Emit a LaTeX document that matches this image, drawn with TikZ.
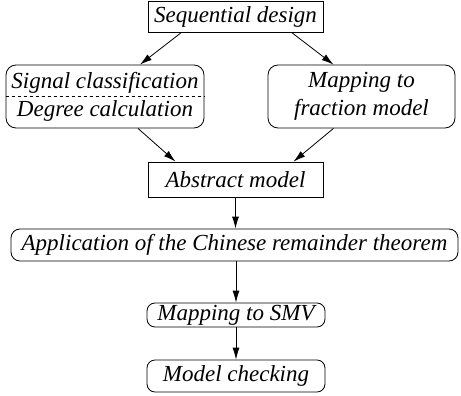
\documentclass[tikz,border=0pt]{standalone}
\usepackage{fontspec}
\setmainfont{Liberation Serif}[ItalicFont={Liberation Serif Italic}]
\usepackage{tikz}
\usetikzlibrary{arrows.meta}

\begin{document}
\begin{tikzpicture}[x=1pt, y=-1pt, line width=0.8pt, >={Latex[length=12pt,width=7pt]},
  font=\fontsize{23}{28}\selectfont\rmfamily\itshape,
  plain/.style={rectangle,draw,inner sep=0pt},
  soft/.style={rectangle,rounded corners=10pt,draw,inner sep=0pt,align=center}]
  \useasboundingbox (0,0) rectangle (461,396);
  \node (seq) at (235.5,16.5) [plain,minimum width=175pt,minimum height=31pt] {Sequential design};
  \node (sigdeg) at (105,96.5) [soft,minimum width=198pt,minimum height=63pt] {Signal classification\\Degree calculation};
  \node (frac) at (361.5,96.5) [soft,minimum width=187pt,minimum height=63pt] {Mapping to\\fraction model};
  \node (abs) at (235.5,179.5) [plain,minimum width=175pt,minimum height=35pt] {Abstract model};
  \node (crt) at (234.5,245) [soft,rounded corners=9pt,minimum width=447pt,minimum height=32pt] {Application of the Chinese remainder theorem};
  \node (smv) at (236,315) [soft,rounded corners=8pt,minimum width=178pt,minimum height=24pt] {Mapping to SMV};
  \node (mc) at (236,376) [soft,rounded corners=8pt,minimum width=178pt,minimum height=32pt] {Model checking};
  \draw[dashed] (sigdeg.west) -- (sigdeg.east);
  \draw[->] ([xshift=-54pt]seq.south) to ([xshift=35pt]sigdeg.north);
  \draw[->] ([xshift=56pt]seq.south) to ([xshift=-28pt]frac.north);
  \draw[->] ([xshift=33pt]sigdeg.south) to ([xshift=-60pt]abs.north);
  \draw[->] ([xshift=-28pt]frac.south) to ([xshift=58pt]abs.north);
  \draw[->] (abs) to (abs |- crt.north);
  \draw[->] (crt.south -| smv) to (smv);
  \draw[->] (smv) to (mc);
\end{tikzpicture}
\end{document}
